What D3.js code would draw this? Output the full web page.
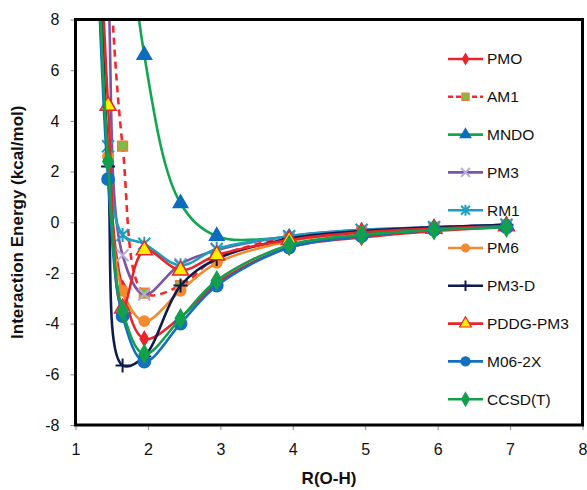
<!DOCTYPE html>
<html lang="en">
<head>
<meta charset="UTF-8">
<title>Interaction Energy</title>
<script src="https://d3js.org/d3.v7.min.js"></script>
<style>
    body { margin: 0; background: white; }
    text { font-family: "Liberation Sans", Arial, sans-serif; fill: #111; }
</style>
</head>
<body>
<svg width="587" height="490"></svg>
<script>
// R(O-H) distances (first one is off the top of the plot for most curves)
const rOH = [1.25, 1.45, 1.65, 1.95, 2.45, 2.95, 3.95, 4.95, 5.95, 6.95];

const pmo   = [16, 2.5, -2.6, -4.6, -3.75, -2.4, -1.0, -0.6, -0.35, -0.2];
const am1   = [30, 11.5, 3.0, -2.8, -2.5, -1.4, -0.6, -0.35, -0.2, -0.1];
const mndo  = [80, 40, 16, 6.6, 0.75, -0.55, -0.6, -0.4, -0.25, -0.15];
const pm3   = [25, 9.5, -1.3, -2.85, -1.65, -1.1, -0.55, -0.3, -0.2, -0.1];
const rm1   = [15, 3.0, -0.5, -0.85, -1.7, -1.05, -0.55, -0.3, -0.2, -0.1];
const pm6   = [16, 2.6, -2.7, -3.9, -2.7, -1.6, -0.75, -0.4, -0.25, -0.15];
const pm3d  = [20, 2.2, -5.65, -5.3, -2.5, -1.45, -0.65, -0.35, -0.2, -0.1];
const pddg  = [18, 4.6, -3.4, -1.1, -1.9, -1.3, -0.7, -0.4, -0.25, -0.15];
const m062x = [15, 1.7, -3.7, -5.5, -4.0, -2.5, -1.0, -0.55, -0.3, -0.2];
const ccsdt = [16, 2.4, -3.5, -5.2, -3.8, -2.3, -0.9, -0.5, -0.3, -0.2];

const xTicks = [1, 2, 3, 4, 5, 6, 7, 8];
const yTicks = [-8, -6, -4, -2, 0, 2, 4, 6, 8];

const series = [
    {name: "PMO",      vals: pmo,   line: "#e8252a", dash: null,  mark: "diamond",  fill: "#e8252a", stroke: "#e8252a", size: 60},
    {name: "AM1",      vals: am1,   line: "#f5292b", dash: "7,5", mark: "square",   fill: "#7dbd44", stroke: "#f07a3c", size: 95},
    {name: "MNDO",     vals: mndo,  line: "#12a650", dash: null,  mark: "triangle", fill: "#0c6cbd", stroke: "#0c6cbd", size: 90},
    {name: "PM3",      vals: pm3,   line: "#7b55a3", dash: null,  mark: "x",        fill: "none",    stroke: "#b9aad8", size: 6},
    {name: "RM1",      vals: rm1,   line: "#1b9ec0", dash: null,  mark: "star",     fill: "none",    stroke: "#1b9ec0", size: 6},
    {name: "PM6",      vals: pm6,   line: "#f38a2e", dash: null,  mark: "circle",   fill: "#f38a2e", stroke: "#f38a2e", size: 85},
    {name: "PM3-D",    vals: pm3d,  line: "#0e1b4d", dash: null,  mark: "plus",     fill: "none",    stroke: "#0e1b4d", size: 7},
    {name: "PDDG-PM3", vals: pddg,  line: "#e8252a", dash: null,  mark: "triangle", fill: "#ffee00", stroke: "#e8252a", size: 110},
    {name: "M06-2X",   vals: m062x, line: "#156fc0", dash: null,  mark: "circle",   fill: "#156fc0", stroke: "#156fc0", size: 120},
    {name: "CCSD(T)",  vals: ccsdt, line: "#13a04c", dash: null,  mark: "diamond",  fill: "#13a04c", stroke: "#13a04c", size: 95}
];

const svg = d3.select("svg");
const pL = 75.5, pR = 582.5, pT = 19.5, pB = 425;

const x = d3.scaleLinear().domain([1, 8]).range([pL, pR]);
const y = d3.scaleLinear().domain([-8, 8]).range([pB, pT]);

svg.append("defs").append("clipPath").attr("id", "plotclip")
    .append("rect").attr("x", pL).attr("y", pT)
    .attr("width", pR - pL).attr("height", pB - pT);

// axes (ticks outside, grey)
const xAxis = svg.append("g").attr("transform", `translate(0,${pB})`)
    .call(d3.axisBottom(x).tickValues(xTicks).tickSize(5).tickPadding(14).tickFormat(d => d));
const yAxis = svg.append("g").attr("transform", `translate(${pL},0)`)
    .call(d3.axisLeft(y).tickValues(yTicks).tickSize(5).tickPadding(11).tickFormat(d => String(d)));
[xAxis, yAxis].forEach(a => {
    a.select(".domain").remove();
    a.selectAll(".tick line").attr("stroke", "#888").attr("stroke-width", 1);
    a.selectAll(".tick text").style("font-size", "16px").attr("fill", "#111")
        .style("font-family", "'Liberation Sans', Arial, sans-serif");
});

function markerPath(s, k) {
    const r = s.size * (k || 1);
    const h = s.mark === "x" || s.mark === "plus" || s.mark === "star" ? s.size * Math.sqrt(k || 1) : 0;
    if (s.mark === "diamond") return d3.symbol(d3.symbolDiamond, r)();
    if (s.mark === "square") return d3.symbol(d3.symbolSquare, r)();
    if (s.mark === "triangle") return d3.symbol(d3.symbolTriangle, r)();
    if (s.mark === "circle") return d3.symbol(d3.symbolCircle, r)();
    if (s.mark === "x") return `M${-h},${-h}L${h},${h}M${-h},${h}L${h},${-h}`;
    if (s.mark === "plus") return `M${-h},0L${h},0M0,${-h}L0,${h}`;
    if (s.mark === "star") return `M${-h},${-h}L${h},${h}M${-h},${h}L${h},${-h}M0,${-h - 1}L0,${h + 1}`;
}

const lineGen = d3.line()
    .x((d, i) => x(rOH[i]))
    .y(d => y(d))
    .curve(d3.curveCatmullRom.alpha(0.5));

const plot = svg.append("g").attr("clip-path", "url(#plotclip)");

series.forEach(s => {
    const g = plot.append("g");
    g.append("path")
        .attr("d", lineGen(s.vals))
        .attr("fill", "none")
        .attr("stroke", s.line)
        .attr("stroke-width", 2.6)
        .attr("stroke-dasharray", s.dash);
    g.selectAll("path.m")
        .data(s.vals)
        .join("path")
        .attr("class", "m")
        .attr("transform", (d, i) => `translate(${x(rOH[i])},${y(d)})`)
        .attr("d", markerPath(s))
        .attr("fill", s.fill)
        .attr("stroke", s.stroke)
        .attr("stroke-width", s.fill === "none" ? 2 : 1.5);
});

// frame
svg.append("rect")
    .attr("x", pL).attr("y", pT)
    .attr("width", pR - pL).attr("height", pB - pT)
    .attr("fill", "none").attr("stroke", "#000").attr("stroke-width", 3);

// legend
const legend = svg.append("g");
series.forEach((s, i) => {
    const ly = 59 + i * 37.8;
    const g = legend.append("g").attr("transform", `translate(0,${ly})`);
    g.append("line").attr("x1", 448).attr("x2", 483).attr("y1", 0).attr("y2", 0)
        .attr("stroke", s.line).attr("stroke-width", 2.6).attr("stroke-dasharray", s.dash ? "5,3" : null);
    g.append("path").attr("transform", "translate(465.5,0)")
        .attr("d", markerPath(s, 0.55))
        .attr("fill", s.fill).attr("stroke", s.stroke)
        .attr("stroke-width", s.fill === "none" ? 2 : 1.2);
    g.append("text").attr("x", 487).attr("y", 0).attr("dy", "0.35em")
        .style("font-size", "15.5px").text(s.name);
});

// axis titles
svg.append("text")
    .attr("x", (pL + pR) / 2).attr("y", 484)
    .attr("text-anchor", "middle")
    .style("font-size", "17px").style("font-weight", "bold")
    .text("R(O-H)");

svg.append("text")
    .attr("transform", `translate(23,${(pT + pB) / 2}) rotate(-90)`)
    .attr("text-anchor", "middle")
    .style("font-size", "17px").style("font-weight", "bold")
    .text("Interaction Energy (kcal/mol)");
</script>
</body>
</html>
